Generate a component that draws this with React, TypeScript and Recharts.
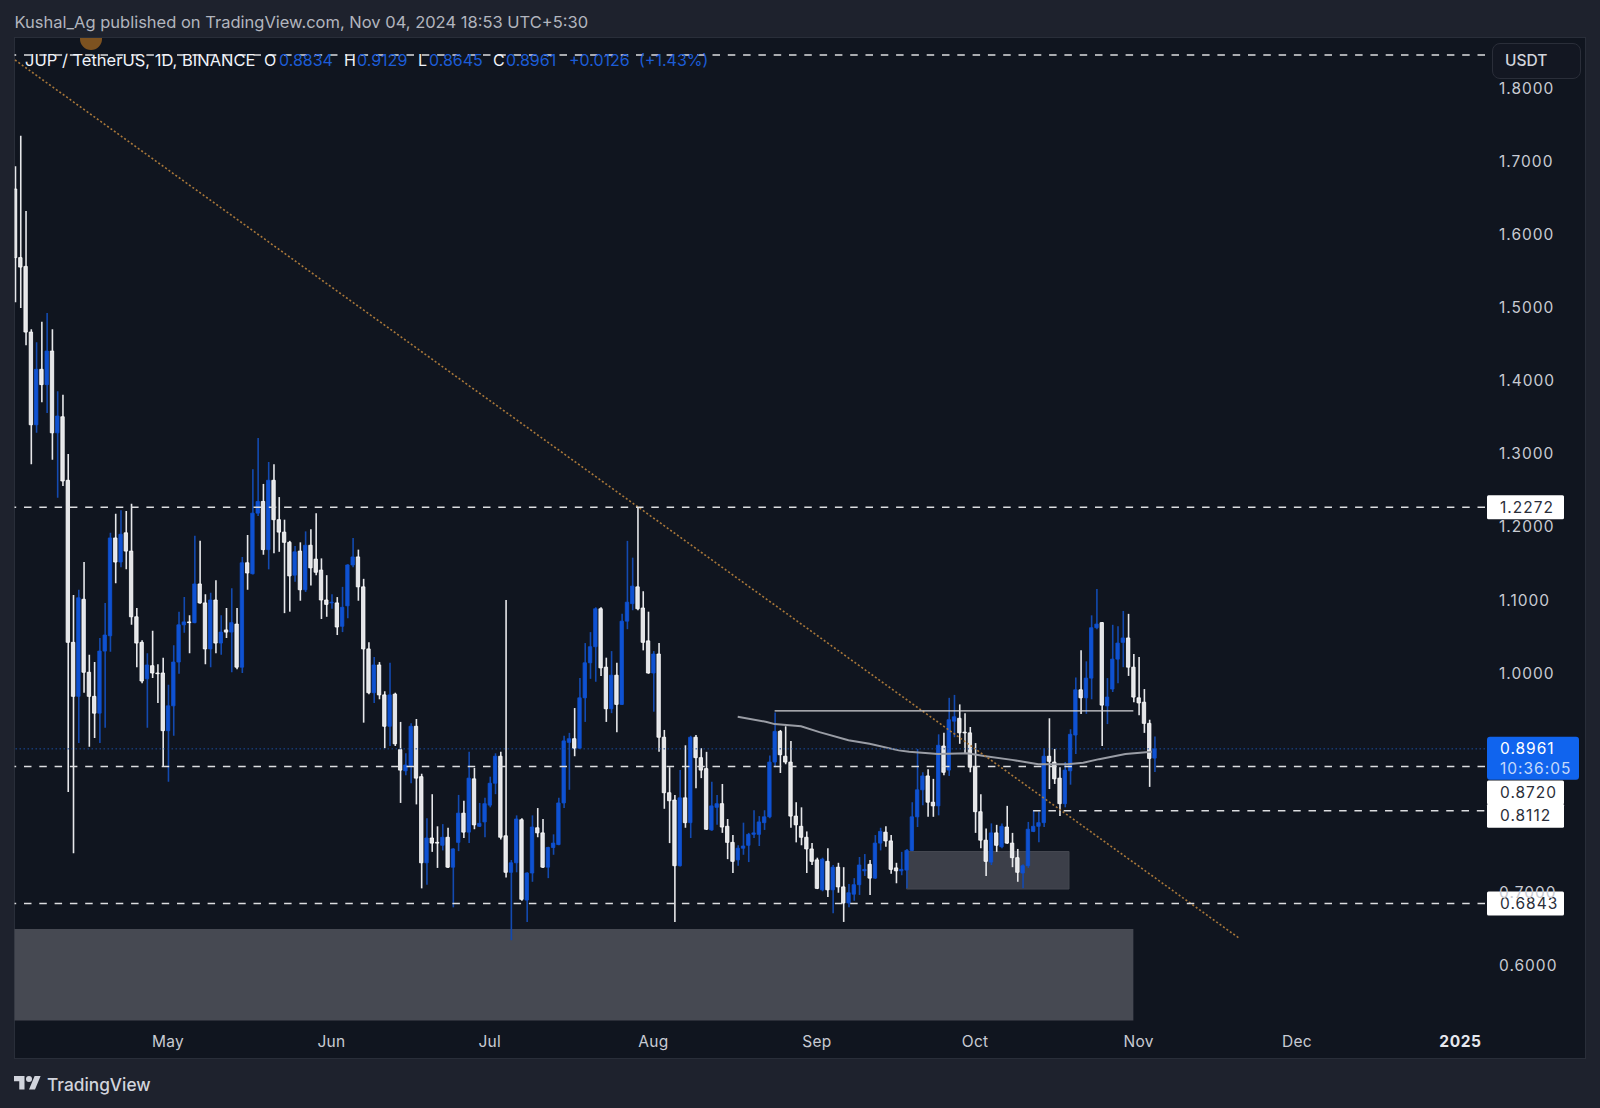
import { Bar, Cell, ComposedChart, Line, ReferenceArea, ReferenceLine, XAxis, YAxis } from 'recharts'

// daily candles, one value per trading day starting 2 Apr 2024
const opens = [
  1.663, 1.569, 1.557, 1.467, 1.34, 1.416, 1.395, 1.441, 1.329, 1.351,
  1.264, 1.042, 0.968, 1.101, 1.001, 0.968, 0.945, 1.03, 1.051, 1.185,
  1.152, 1.192, 1.167, 1.077, 1.042, 0.992, 1.01, 1.0, 1.0, 0.921,
  0.955, 1.015, 1.066, 1.07, 1.069, 1.122, 1.096, 1.033, 1.1, 1.041,
  1.059, 1.056, 1.067, 1.008, 1.151, 1.136, 1.219, 1.235, 1.169, 1.264,
  1.21, 1.193, 1.179, 1.134, 1.167, 1.114, 1.175, 1.156, 1.141, 1.1,
  1.096, 1.096, 1.064, 1.092, 1.148, 1.159, 1.118, 1.033, 0.973, 1.011,
  0.97, 0.927, 0.971, 0.895, 0.866, 0.872, 0.927, 0.858, 0.74, 0.774,
  0.768, 0.764, 0.775, 0.734, 0.768, 0.808, 0.782, 0.855, 0.79, 0.796,
  0.819, 0.849, 0.886, 0.777, 0.727, 0.74, 0.799, 0.689, 0.726, 0.788,
  0.781, 0.734, 0.761, 0.765, 0.822, 0.905, 0.91, 0.897, 0.966, 1.014,
  1.036, 1.088, 1.008, 0.951, 0.997, 0.957, 1.071, 1.095, 1.118, 1.089,
  1.044, 1.0, 1.026, 0.912, 0.836, 0.826, 0.736, 0.829, 0.795, 0.912,
  0.884, 0.869, 0.785, 0.816, 0.821, 0.79, 0.768, 0.744, 0.76, 0.764,
  0.779, 0.779, 0.795, 0.803, 0.878, 0.92, 0.886, 0.878, 0.804, 0.79,
  0.775, 0.759, 0.744, 0.703, 0.742, 0.703, 0.734, 0.707, 0.685, 0.697,
  0.71, 0.729, 0.738, 0.719, 0.767, 0.782, 0.77, 0.733, 0.729, 0.73,
  0.757, 0.803, 0.84, 0.859, 0.823, 0.818, 0.9, 0.867, 0.934, 0.938,
  0.919, 0.918, 0.871, 0.81, 0.771, 0.741, 0.781, 0.762, 0.789, 0.767,
  0.747, 0.726, 0.736, 0.783, 0.79, 0.795, 0.886, 0.878, 0.856, 0.821,
  0.866, 0.915, 0.977, 0.966, 0.993, 1.062, 1.069, 0.955, 0.978, 1.019,
  1.042, 1.048, 1.008, 0.966, 0.96, 0.931, 0.8834,
]
const highs = [
  1.694, 1.736, 1.633, 1.471, 1.453, 1.481, 1.493, 1.471, 1.386, 1.381,
  1.3, 1.107, 1.114, 1.152, 1.025, 1.015, 1.048, 1.096, 1.192, 1.218,
  1.223, 1.222, 1.232, 1.089, 1.045, 1.027, 1.058, 1.012, 1.021, 0.984,
  1.038, 1.084, 1.104, 1.079, 1.188, 1.181, 1.108, 1.11, 1.127, 1.079,
  1.089, 1.116, 1.089, 1.159, 1.189, 1.279, 1.322, 1.259, 1.289, 1.286,
  1.241, 1.21, 1.181, 1.174, 1.179, 1.194, 1.197, 1.219, 1.157, 1.134,
  1.108, 1.104, 1.118, 1.149, 1.185, 1.169, 1.129, 1.042, 1.022, 1.015,
  0.975, 1.014, 0.973, 0.933, 0.89, 0.931, 0.937, 0.862, 0.801, 0.834,
  0.79, 0.793, 0.788, 0.76, 0.833, 0.825, 0.892, 0.87, 0.822, 0.829,
  0.858, 0.89, 0.892, 1.1, 0.744, 0.805, 0.801, 0.727, 0.805, 0.815,
  0.8, 0.762, 0.779, 0.829, 0.914, 0.918, 0.952, 0.993, 1.041, 1.056,
  1.09, 1.09, 1.021, 1.03, 1.014, 1.081, 1.181, 1.158, 1.226, 1.112,
  1.084, 1.03, 1.041, 0.922, 0.871, 0.833, 0.867, 0.901, 0.914, 0.915,
  0.897, 0.892, 0.851, 0.833, 0.848, 0.8, 0.778, 0.764, 0.795, 0.781,
  0.812, 0.804, 0.812, 0.887, 0.946, 0.922, 0.927, 0.907, 0.823, 0.816,
  0.783, 0.767, 0.747, 0.747, 0.76, 0.737, 0.74, 0.734, 0.711, 0.719,
  0.748, 0.752, 0.744, 0.778, 0.788, 0.79, 0.778, 0.74, 0.755, 0.759,
  0.823, 0.896, 0.864, 0.868, 0.855, 0.916, 0.918, 0.966, 0.97, 0.957,
  0.945, 0.926, 0.904, 0.834, 0.787, 0.794, 0.792, 0.794, 0.818, 0.781,
  0.759, 0.738, 0.796, 0.812, 0.81, 0.897, 0.938, 0.896, 0.871, 0.878,
  0.923, 0.994, 1.031, 1.016, 1.079, 1.115, 1.07, 0.993, 1.066, 1.064,
  1.085, 1.081, 1.026, 1.022, 0.978, 0.936, 0.9129,
]
const lows = [
  1.508, 1.5, 1.449, 1.286, 1.329, 1.371, 1.356, 1.292, 1.24, 1.256,
  0.837, 0.753, 0.904, 0.973, 0.899, 0.911, 0.904, 0.925, 1.029, 1.123,
  1.145, 1.142, 1.066, 1.008, 0.986, 0.925, 0.993, 0.959, 0.872, 0.851,
  0.914, 0.999, 1.055, 1.027, 1.068, 1.095, 1.012, 1.008, 1.027, 1.025,
  1.048, 1.001, 1.005, 1.0, 1.114, 1.135, 1.215, 1.162, 1.142, 1.164,
  1.166, 1.082, 1.084, 1.125, 1.099, 1.111, 1.12, 1.134, 1.074, 1.077,
  1.088, 1.052, 1.056, 1.075, 1.145, 1.099, 0.932, 0.971, 0.959, 0.964,
  0.897, 0.9, 0.9, 0.822, 0.86, 0.849, 0.82, 0.705, 0.71, 0.755,
  0.733, 0.757, 0.733, 0.679, 0.756, 0.774, 0.767, 0.786, 0.789, 0.775,
  0.816, 0.834, 0.772, 0.72, 0.634, 0.727, 0.688, 0.659, 0.714, 0.775,
  0.733, 0.719, 0.751, 0.764, 0.815, 0.84, 0.886, 0.896, 0.933, 0.992,
  0.988, 0.996, 0.933, 0.945, 0.919, 0.956, 1.06, 1.086, 1.086, 1.031,
  0.999, 0.947, 0.892, 0.814, 0.767, 0.659, 0.735, 0.788, 0.774, 0.842,
  0.856, 0.785, 0.784, 0.792, 0.781, 0.745, 0.726, 0.736, 0.751, 0.741,
  0.774, 0.763, 0.785, 0.801, 0.871, 0.863, 0.875, 0.788, 0.768, 0.764,
  0.726, 0.737, 0.704, 0.701, 0.693, 0.671, 0.699, 0.659, 0.679, 0.688,
  0.696, 0.722, 0.696, 0.718, 0.757, 0.762, 0.725, 0.712, 0.723, 0.705,
  0.756, 0.789, 0.819, 0.803, 0.803, 0.805, 0.86, 0.859, 0.912, 0.903,
  0.89, 0.864, 0.781, 0.76, 0.722, 0.737, 0.755, 0.76, 0.766, 0.734,
  0.714, 0.705, 0.733, 0.782, 0.768, 0.789, 0.841, 0.848, 0.804, 0.816,
  0.847, 0.889, 0.944, 0.944, 0.964, 1.06, 0.9, 0.93, 0.974, 0.986,
  1.008, 0.996, 0.96, 0.942, 0.918, 0.844, 0.8645,
]
const closes = [
  1.569, 1.556, 1.467, 1.34, 1.416, 1.395, 1.441, 1.329, 1.352, 1.263,
  1.042, 0.968, 1.103, 1.001, 0.968, 0.945, 1.03, 1.052, 1.185, 1.152,
  1.19, 1.167, 1.077, 1.041, 0.989, 1.011, 1.0, 0.999, 0.921, 0.955,
  1.015, 1.066, 1.07, 1.069, 1.122, 1.096, 1.033, 1.1, 1.041, 1.056,
  1.056, 1.069, 1.008, 1.151, 1.137, 1.219, 1.235, 1.169, 1.264, 1.21,
  1.193, 1.179, 1.133, 1.166, 1.114, 1.175, 1.144, 1.138, 1.1, 1.094,
  1.097, 1.063, 1.09, 1.148, 1.159, 1.118, 1.033, 0.973, 1.011, 0.97,
  0.927, 0.97, 0.903, 0.867, 0.874, 0.927, 0.856, 0.74, 0.774, 0.767,
  0.767, 0.775, 0.734, 0.759, 0.808, 0.782, 0.856, 0.792, 0.794, 0.821,
  0.849, 0.886, 0.775, 0.727, 0.74, 0.8, 0.69, 0.726, 0.789, 0.781,
  0.734, 0.761, 0.767, 0.822, 0.907, 0.91, 0.897, 0.966, 1.014, 1.036,
  1.088, 1.007, 0.951, 0.997, 0.957, 1.071, 1.097, 1.119, 1.088, 1.042,
  1.0, 1.026, 0.912, 0.836, 0.825, 0.736, 0.829, 0.795, 0.912, 0.884,
  0.867, 0.786, 0.818, 0.821, 0.789, 0.768, 0.742, 0.76, 0.763, 0.779,
  0.781, 0.796, 0.803, 0.878, 0.92, 0.888, 0.878, 0.804, 0.792, 0.775,
  0.759, 0.742, 0.705, 0.745, 0.703, 0.734, 0.707, 0.685, 0.699, 0.71,
  0.737, 0.731, 0.719, 0.767, 0.783, 0.77, 0.731, 0.729, 0.731, 0.757,
  0.803, 0.84, 0.859, 0.823, 0.818, 0.901, 0.864, 0.936, 0.94, 0.918,
  0.918, 0.871, 0.81, 0.771, 0.742, 0.781, 0.764, 0.79, 0.767, 0.747,
  0.727, 0.736, 0.786, 0.79, 0.795, 0.886, 0.879, 0.855, 0.821, 0.867,
  0.916, 0.977, 0.966, 0.993, 1.062, 1.067, 0.956, 0.967, 1.019, 1.041,
  1.048, 1.008, 0.967, 0.959, 0.931, 0.883, 0.8961,
]

// moving average, read only where it is drawn
const maDays = [137, 142.5, 144, 149, 152.5, 158, 162, 167.5, 169.5, 175, 180.5, 184, 189, 194, 199.5, 202.5, 205.5, 210.5, 215.5]
const maValues = [0.94, 0.933, 0.93, 0.927, 0.919, 0.908, 0.903, 0.894, 0.892, 0.889, 0.89, 0.886, 0.881, 0.875, 0.875, 0.877, 0.882, 0.889, 0.892]

const priceTicks = [0.6, 0.7, 1.0, 1.1, 1.2, 1.3, 1.4, 1.5, 1.6, 1.7, 1.8]
const monthDays = [29, 60, 90, 121, 152, 182, 213, 243, 274]
const monthNames = ['May', 'Jun', 'Jul', 'Aug', 'Sep', 'Oct', 'Nov', 'Dec', '2025']

const candles = opens.map((open, i) => ({
  day: i,
  open,
  high: highs[i],
  low: lows[i],
  close: closes[i],
}))
const maLine = maDays.map((day, i) => ({ day, ma: maValues[i] }))

const BLUE_BODY = '#0f52d2'
const BLUE_WICK = '#134ab0'
const WHITE_BODY = '#e4e5e8'
const WHITE_WICK = '#e6e7ea'
const FONT = 'Inter, sans-serif'
const DASH = '7.5 7.8'

const legendParts = [
  { text: 'JUP / TetherUS, 1D, BINANCE', left: 25, color: '#f0f3fa' },
  { text: 'O', left: 264, color: '#f0f3fa' },
  { text: '0.8834', left: 279, color: '#1c5cd6' },
  { text: 'H', left: 344, color: '#f0f3fa' },
  { text: '0.9129', left: 357, color: '#1c5cd6' },
  { text: 'L', left: 418, color: '#f0f3fa' },
  { text: '0.8645', left: 429, color: '#1c5cd6' },
  { text: 'C', left: 493, color: '#f0f3fa' },
  { text: '0.8961', left: 506, color: '#1c5cd6' },
  { text: '+0.0126', left: 569, color: '#1c5cd6' },
  { text: '(+1.43%)', left: 639, color: '#1c5cd6' },
]

function PriceTag({ viewBox, text, dy = 0 }: any) {
  const y = viewBox.y + dy
  const x = viewBox.x + viewBox.width + 2
  return (
    <g>
      <rect x={x} y={y - 12} width={77} height={24} rx={1.5} fill="#ffffff" />
      <text x={x + 13} y={y + 5.5} fontFamily={FONT} fontSize={15.5} letterSpacing={1} fill="#2a2e39">
        {text}
      </text>
    </g>
  )
}

function LastPriceTag({ viewBox }: any) {
  const y = viewBox.y
  const x = viewBox.x + viewBox.width + 2
  return (
    <g>
      <rect x={x} y={y - 12} width={92} height={43} rx={3} fill="#1064ee" />
      <text x={x + 13} y={y + 5.5} fontFamily={FONT} fontSize={15.5} letterSpacing={1} fill="#ffffff">
        0.8961
      </text>
      <text x={x + 13} y={y + 25} fontFamily={FONT} fontSize={15.5} letterSpacing={1} fill="#c4d9fb">
        10:36:05
      </text>
    </g>
  )
}

function MonthTick({ x, y, payload }: any) {
  const label = monthNames[monthDays.indexOf(payload.value)]
  return (
    <text
      x={x}
      y={y + 9.5}
      dy={5}
      textAnchor="middle"
      fontFamily={FONT}
      fontSize={15.5}
      letterSpacing={label === '2025' ? 0.6 : 0.3}
      fontWeight={label === '2025' ? 700 : 400}
      fill={label === '2025' ? '#e6e8ee' : '#c8cbd3'}
    >
      {label}
    </text>
  )
}

export default function App() {
  return (
    <div style={{ position: 'absolute', left: 0, top: 0, width: 1600, height: 1108, background: '#1e222d', overflow: 'hidden', fontFamily: FONT }}>
      <div style={{ position: 'absolute', left: 14, top: 37, width: 1572, height: 1022, background: '#10151f', border: '1px solid #292e39', boxSizing: 'border-box' }} />
      <div style={{ position: 'absolute', left: 80, top: 38, width: 22, height: 12, background: '#7d5220', borderRadius: '0 0 11px 11px' }} />

      <ComposedChart
        width={1600}
        height={1108}
        data={candles}
        margin={{ top: 37, right: 14, bottom: 49, left: 14.5 }}
        style={{ position: 'absolute', left: 0, top: 0 }}
      >
        <XAxis
          dataKey="day"
          type="number"
          domain={[-0.095, 278.66]}
          allowDataOverflow
          ticks={monthDays}
          tick={<MonthTick />}
          tickLine={false}
          axisLine={false}
          height={35}
          interval={0}
        />
        <XAxis dataKey="day" xAxisId="body" type="number" domain={[-0.095, 278.66]} allowDataOverflow hide />
        <YAxis
          orientation="right"
          type="number"
          domain={[0.5192, 1.8712]}
          allowDataOverflow
          ticks={priceTicks}
          tickFormatter={(v: number) => v.toFixed(4)}
          tick={{ fill: '#c8cbd3', fontSize: 15.5, fontFamily: FONT, letterSpacing: 1 }}
          tickMargin={8}
          tickLine={false}
          axisLine={false}
          width={101}
        />

        <ReferenceArea x1={-0.095} x2={212} y1={0.524} y2={0.6493} fill="#464952" fillOpacity={1} stroke="none" />
        <ReferenceArea x1={169} x2={199.8} y1={0.7041} y2={0.7555} fill="#3c3f49" fillOpacity={1} stroke="#454851" />

        <Bar dataKey={(d: any) => [d.low, d.high]} barSize={1.6} isAnimationActive={false}>
          {candles.map((d) => (
            <Cell key={d.day} fill={d.close >= d.open ? BLUE_WICK : WHITE_WICK} />
          ))}
        </Bar>
        <Bar dataKey={(d: any) => [d.open, d.close]} xAxisId="body" barSize={3.4} isAnimationActive={false}>
          {candles.map((d) => (
            <Cell
              key={d.day}
              fill={d.close >= d.open ? BLUE_BODY : WHITE_BODY}
              stroke={d.close >= d.open ? BLUE_BODY : '#ffffff'}
              strokeWidth={0.8}
            />
          ))}
        </Bar>
        <Line data={maLine} dataKey="ma" stroke="#9a9da5" strokeWidth={2} dot={false} isAnimationActive={false} />

        <ReferenceLine segment={[{ x: 0, y: 1.8397 }, { x: 232, y: 0.637 }]} stroke="#a9783a" strokeWidth={1.6} strokeDasharray="2 2.2" />
        <ReferenceLine segment={[{ x: 144, y: 0.948 }, { x: 212, y: 0.948 }]} stroke="#d4d5d9" strokeWidth={1.2} />
        <ReferenceLine y={0.8961} stroke="#1b4b9c" strokeDasharray="1.5 2.5" label={<LastPriceTag />} />
        <ReferenceLine y={1.8466} stroke="#dcdde0" strokeWidth={1.5} strokeDasharray={DASH} />
        <ReferenceLine y={1.2272} stroke="#dcdde0" strokeWidth={1.5} strokeDasharray={DASH} label={<PriceTag text="1.2272" />} />
        <ReferenceLine y={0.872} stroke="#dcdde0" strokeWidth={1.5} strokeDasharray={DASH} label={<PriceTag text="0.8720" dy={26} />} />
        <ReferenceLine segment={[{ x: 193, y: 0.8112 }, { x: 278.66, y: 0.8112 }]} stroke="#dcdde0" strokeWidth={1.5} strokeDasharray={DASH} />
        <ReferenceLine y={0.8112} stroke="none" label={<PriceTag text="0.8112" dy={5} />} />
        <ReferenceLine y={0.6843} stroke="#dcdde0" strokeWidth={1.5} strokeDasharray={DASH} label={<PriceTag text="0.6843" />} />
      </ComposedChart>

      <div style={{ position: 'absolute', left: 14.5, top: 12, color: '#b2b5be', fontSize: 16.5, lineHeight: '20px', whiteSpace: 'nowrap' }}>
        Kushal_Ag published on TradingView.com, Nov 04, 2024 18:53 UTC+5:30
      </div>
      {legendParts.map((p) => (
        <span key={p.left} style={{ position: 'absolute', left: p.left, top: 49.5, color: p.color, fontSize: p.left === 25 ? 16.5 : 16, lineHeight: '20px', whiteSpace: 'nowrap' }}>
          {p.text}
        </span>
      ))}
      <div style={{ position: 'absolute', left: 1492, top: 43, width: 89, height: 36, boxSizing: 'border-box', border: '1px solid #2a2e39', borderRadius: 8, background: '#131722', color: '#d1d4dc', fontSize: 15.5, fontWeight: 500, lineHeight: '34px', paddingLeft: 12 }}>
        USDT
      </div>

      <svg style={{ position: 'absolute', left: 14, top: 1073 }} width={27} height={21} viewBox="0 0 36 28">
        <path d="M14 22H7V11H0V4h14v18ZM28 22h-8l7.5-18h8L28 22Z" fill="#d1d4dc" />
        <circle cx={20} cy={8} r={4} fill="#d1d4dc" />
      </svg>
      <div style={{ position: 'absolute', left: 47, top: 1074, color: '#d1d4dc', fontSize: 17.3, fontWeight: 500, lineHeight: '22px' }}>TradingView</div>
    </div>
  )
}
